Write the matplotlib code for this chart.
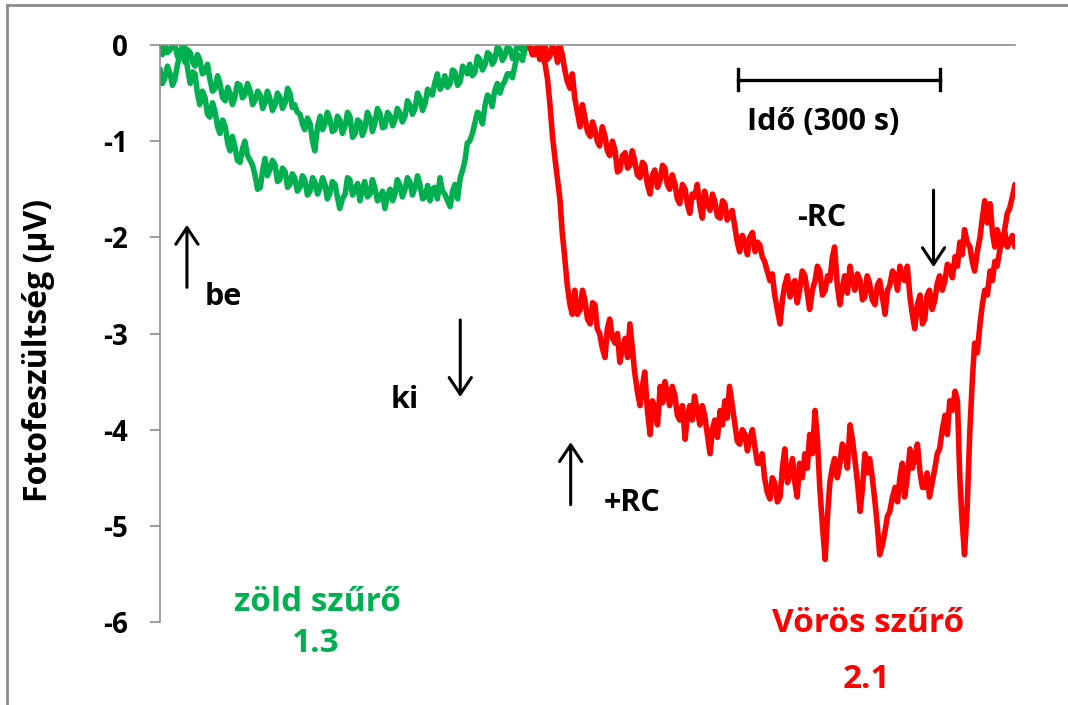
import matplotlib
matplotlib.use("Agg")
import matplotlib.pyplot as plt
from matplotlib.lines import Line2D

plt.rcParams['font.family'] = ['Open Sans', 'DejaVu Sans']

# time axis of the green-filter recording (s)
t_green = [0, 3.5, 7, 11, 15, 18.5, 22, 26, 30, 33.5, 37, 41, 45, 48.5, 52, 55.5, 59, 63, 67, 70.5,
           74, 78, 82, 85.5, 89, 93, 97, 100.5, 104, 107.5, 111, 115, 119, 122.5, 126, 130, 134,
           137.5, 141, 145, 149, 152.5, 156, 159.5, 163, 167, 171, 174.5, 178, 182, 186, 189.5,
           193, 196.5, 200, 204, 208, 211.5, 215, 219, 223, 226.5, 230, 234, 238, 241.5, 245,
           248.5, 252, 256, 260, 263.5, 267, 271, 275, 278.5, 282, 286, 290, 293.5, 297, 300.5,
           304, 308, 312, 315.5, 319, 323, 327, 330.5, 334, 338, 342, 345.5, 349, 352.5, 356,
           360, 364, 367.5, 371, 375, 379, 382.5, 386, 390, 394, 397.5, 401, 404.5, 408, 412,
           416, 419.5, 423, 427, 431, 434.5, 438, 442, 446, 449.5, 453, 456.5, 460, 464, 468,
           471.5, 475, 479, 483, 486.5, 490, 493.5, 497, 501, 505, 508.5, 512, 516, 520, 523.5,
           527, 531, 535, 538.5, 542, 545.5, 549]

green_shallow = [-0.25, -0.40, -0.35, -0.22, -0.30, -0.42, -0.36, -0.20, -0.10, -0.02,
                 -0.18, -0.05, -0.08, -0.18, -0.22, -0.10, -0.15, -0.30, -0.28, -0.20,
                 -0.35, -0.48, -0.45, -0.32, -0.40, -0.55, -0.58, -0.44, -0.50, -0.62,
                 -0.55, -0.40, -0.42, -0.55, -0.52, -0.40, -0.48, -0.62, -0.58, -0.48,
                 -0.52, -0.66, -0.60, -0.48, -0.55, -0.68, -0.62, -0.50, -0.54, -0.66,
                 -0.60, -0.45, -0.50, -0.65, -0.62, -0.70, -0.72, -0.82, -0.88, -0.76,
                 -0.82, -1.00, -1.10, -0.85, -0.74, -0.88, -0.82, -0.70, -0.76, -0.90,
                 -0.88, -0.74, -0.78, -0.92, -0.84, -0.70, -0.74, -0.96, -0.92, -0.78,
                 -0.80, -0.94, -0.88, -0.70, -0.76, -0.90, -0.82, -0.66, -0.72, -0.86,
                 -0.85, -0.70, -0.74, -0.84, -0.78, -0.66, -0.70, -0.80, -0.74, -0.58,
                 -0.62, -0.72, -0.66, -0.50, -0.55, -0.68, -0.60, -0.46, -0.50, -0.52,
                 -0.40, -0.30, -0.46, -0.42, -0.32, -0.44, -0.40, -0.26, -0.28, -0.42,
                 -0.38, -0.22, -0.25, -0.30, -0.20, -0.32, -0.28, -0.12, -0.15, -0.26,
                 -0.20, -0.08, -0.10, -0.20, -0.16, -0.02, -0.05, -0.16, -0.12, -0.02,
                 -0.04, -0.14, -0.10, 0.0, -0.02, -0.06, 0.0, -0.03, 0.0]

green_deep = [-0.02, -0.10, 0.0, -0.08, -0.05, 0.0, 0.0, -0.12, -0.08, 0.0,
              -0.02, -0.25, -0.40, -0.28, -0.30, -0.50, -0.62, -0.48, -0.55, -0.72,
              -0.75, -0.60, -0.70, -0.85, -0.92, -0.78, -0.85, -1.02, -1.10, -0.95,
              -1.05, -1.20, -1.22, -1.08, -1.00, -1.15, -1.20, -1.25, -1.35, -1.50,
              -1.48, -1.30, -1.18, -1.36, -1.30, -1.20, -1.25, -1.42, -1.40, -1.28,
              -1.32, -1.48, -1.45, -1.34, -1.38, -1.52, -1.48, -1.36, -1.40, -1.56,
              -1.52, -1.38, -1.42, -1.55, -1.48, -1.38, -1.45, -1.60, -1.55, -1.42,
              -1.45, -1.58, -1.70, -1.60, -1.55, -1.38, -1.40, -1.56, -1.50, -1.44,
              -1.62, -1.50, -1.42, -1.58, -1.55, -1.40, -1.48, -1.62, -1.60, -1.52,
              -1.70, -1.56, -1.50, -1.62, -1.55, -1.40, -1.45, -1.58, -1.50, -1.38,
              -1.42, -1.56, -1.48, -1.36, -1.45, -1.60, -1.58, -1.46, -1.62, -1.50,
              -1.48, -1.60, -1.38, -1.52, -1.55, -1.62, -1.68, -1.52, -1.45, -1.60,
              -1.38, -1.30, -1.20, -1.02, -1.00, -0.92, -0.80, -0.70, -0.72, -0.82,
              -0.62, -0.52, -0.55, -0.64, -0.48, -0.40, -0.50, -0.42, -0.38, -0.30,
              -0.30, -0.34, -0.22, -0.10, -0.12, -0.16, -0.05, 0.0, 0.0]

# time axis of the red-filter recording (s)
t_red = [549, 553, 557, 560.5, 564, 568, 572, 575.5, 579, 583, 587, 590.5, 594, 597.5, 601, 605,
         609, 612.5, 616, 620, 624, 627.5, 631, 635, 639, 642.5, 646, 649.5, 653, 657, 661,
         664.5, 668, 672, 676, 679.5, 683, 687, 691, 694.5, 698, 701.5, 705, 709, 713, 716.5,
         720, 724, 728, 731.5, 735, 739, 743, 746.5, 750, 753.5, 757, 761, 765, 768.5, 772,
         776, 780, 783.5, 787, 790.5, 794, 798, 802, 805.5, 809, 813, 817, 820.5, 824, 828,
         832, 835.5, 839, 842.5, 846, 850, 854, 857.5, 861, 865, 869, 872.5, 876, 880, 884,
         887.5, 891, 894.5, 898, 902, 906, 909.5, 913, 917, 921, 924.5, 928, 932, 936, 939.5,
         943, 946.5, 950, 954, 958, 961.5, 965, 969, 973, 976.5, 980, 984, 988, 991.5, 995,
         998.5, 1002, 1006, 1010, 1013.5, 1017, 1021, 1025, 1028.5, 1032, 1036, 1040, 1043.5,
         1047, 1050.5, 1054, 1058, 1062, 1065.5, 1069, 1073, 1077, 1080.5, 1084, 1088, 1092,
         1095.5, 1099, 1102.5, 1106, 1110, 1114, 1117.5, 1121, 1125, 1129, 1132.5, 1136,
         1139.5, 1143, 1147, 1151, 1154.5, 1158, 1162, 1166, 1169.5, 1173, 1177, 1181, 1184.5,
         1188, 1191.5, 1195, 1199, 1203, 1206.5, 1210, 1214, 1218, 1221.5, 1225, 1229, 1233,
         1236.5, 1240, 1243.5, 1247, 1251, 1255, 1258.5, 1262, 1266, 1270]

red_minus_rc = [0.0, -0.10, -0.05, 0.0, -0.15, -0.05, 0.0, -0.15, -0.12, 0.0,
                -0.05, -0.18, 0.0, -0.10, -0.25, -0.38, -0.45, -0.30, -0.55, -0.70,
                -0.85, -0.62, -0.75, -0.90, -0.95, -0.80, -0.88, -1.00, -1.05, -0.85,
                -0.95, -1.10, -1.15, -1.00, -1.10, -1.32, -1.30, -1.15, -1.12, -1.28,
                -1.25, -1.10, -1.20, -1.35, -1.38, -1.22, -1.25, -1.45, -1.55, -1.35,
                -1.30, -1.48, -1.40, -1.25, -1.28, -1.45, -1.50, -1.35, -1.45, -1.60,
                -1.65, -1.45, -1.50, -1.66, -1.75, -1.55, -1.58, -1.45, -1.68, -1.80,
                -1.52, -1.64, -1.72, -1.55, -1.62, -1.78, -1.80, -1.62, -1.65, -1.82,
                -1.78, -1.72, -1.90, -2.05, -2.15, -1.98, -2.05, -2.18, -2.00, -1.95,
                -2.15, -2.05, -2.08, -2.20, -2.25, -2.35, -2.45, -2.38, -2.60, -2.75,
                -2.90, -2.65, -2.50, -2.40, -2.62, -2.50, -2.45, -2.68, -2.55, -2.35,
                -2.40, -2.58, -2.75, -2.55, -2.45, -2.30, -2.35, -2.60, -2.55, -2.40,
                -2.45, -2.22, -2.10, -2.50, -2.70, -2.52, -2.40, -2.58, -2.30, -2.45,
                -2.55, -2.38, -2.45, -2.65, -2.62, -2.40, -2.48, -2.65, -2.70, -2.50,
                -2.45, -2.62, -2.80, -2.55, -2.50, -2.35, -2.40, -2.55, -2.30, -2.42,
                -2.45, -2.30, -2.62, -2.80, -2.95, -2.70, -2.60, -2.90, -2.85, -2.60,
                -2.55, -2.75, -2.65, -2.48, -2.40, -2.55, -2.45, -2.28, -2.30, -2.42,
                -2.20, -2.30, -2.05, -2.18, -1.92, -2.05, -2.10, -2.25, -2.35, -2.15,
                -2.00, -1.80, -1.62, -1.85, -1.65, -1.95, -2.10, -1.92, -2.00, -2.08,
                -1.90, -1.75, -1.70, -1.58, -1.45]

red_plus_rc = [0.0, -0.08, -0.10, 0.0, 0.0, -0.12, -0.20, -0.35, -0.60, -0.95,
               -1.20, -1.40, -1.60, -1.95, -2.20, -2.50, -2.70, -2.80, -2.55, -2.80,
               -2.75, -2.55, -2.65, -2.85, -2.90, -2.68, -2.70, -2.95, -3.00, -3.15,
               -3.25, -2.95, -2.85, -3.05, -3.10, -3.00, -3.30, -3.15, -3.05, -3.25,
               -2.90, -3.15, -3.40, -3.60, -3.75, -3.55, -3.40, -3.80, -4.05, -3.70,
               -3.80, -3.95, -3.55, -3.72, -3.50, -3.62, -3.75, -3.55, -3.65, -3.85,
               -3.90, -3.75, -4.10, -3.85, -3.75, -3.90, -3.65, -3.80, -3.95, -3.75,
               -3.85, -4.05, -4.25, -4.00, -3.90, -4.08, -3.80, -3.95, -3.70, -3.88,
               -3.55, -3.75, -3.95, -4.12, -4.15, -4.00, -4.05, -4.22, -4.10, -4.00,
               -4.20, -4.35, -4.35, -4.25, -4.50, -4.65, -4.72, -4.50, -4.55, -4.75,
               -4.70, -4.40, -4.20, -4.55, -4.45, -4.30, -4.55, -4.70, -4.35, -4.50,
               -4.25, -4.40, -4.05, -4.25, -3.80, -4.10, -4.60, -5.00, -5.35, -4.90,
               -4.55, -4.40, -4.30, -4.50, -4.35, -4.15, -4.20, -4.40, -3.95, -4.10,
               -4.30, -4.55, -4.85, -4.60, -4.25, -4.45, -4.30, -4.50, -4.75, -5.00,
               -5.30, -5.20, -5.05, -4.90, -4.85, -4.70, -4.60, -4.75, -4.50, -4.35,
               -4.70, -4.50, -4.20, -4.40, -4.30, -4.15, -4.45, -4.60, -4.60, -4.45,
               -4.70, -4.55, -4.40, -4.25, -4.20, -4.00, -3.85, -4.05, -3.70, -3.80,
               -3.60, -3.70, -4.50, -4.95, -5.30, -4.80, -4.00, -3.50, -3.10, -3.20,
               -2.90, -2.70, -2.55, -2.60, -2.35, -2.45, -2.25, -2.30, -2.15, -2.00,
               -1.95, -2.10, -2.05, -1.98, -2.10]

y_ticks = [0, -1, -2, -3, -4, -5, -6]
GREEN = '#00B050'
RED = '#FF0000'
GRAY = '#8C8C8C'

fig = plt.figure(figsize=(10.68, 7.05), dpi=100)
W, H = 1068, 705
ax = fig.add_axes([160 / W, 1 - 622 / H, (1015 - 160) / W, (622 - 45) / H])


def trace(t, v, color):
    n = min(len(t), len(v))
    ax.plot(t[:n], v[:n], color=color, lw=4.0, solid_joinstyle='round',
            solid_capstyle='round')


trace(t_green, green_shallow, GREEN)
trace(t_green, green_deep, GREEN)
trace(t_red, red_minus_rc, RED)
trace(t_red, red_plus_rc, RED)

ax.set_xlim(0, 1270)
ax.set_ylim(-6, 0)
ax.set_yticks(y_ticks)
ax.set_yticklabels([str(v) for v in y_ticks], fontsize=20, fontweight='bold')
ax.set_xticks([])
for s in ['right', 'bottom']:
    ax.spines[s].set_visible(False)
for s in ['left', 'top']:
    ax.spines[s].set_color(GRAY)
    ax.spines[s].set_linewidth(1.2)
ax.tick_params(axis='y', direction='out', length=7.2, width=1.2, color=GRAY, pad=16)
ax.set_ylabel('Fotofeszültség (μV)', fontsize=23, fontweight='bold')
ax.yaxis.set_label_coords(-0.123, 0.47)

arrow_kw = dict(arrowstyle='->,head_length=0.6,head_width=0.4', lw=2.2, color='black',
                shrinkA=0, shrinkB=0, mutation_scale=20)
ax.annotate('', xy=(40, -1.87), xytext=(40, -2.52), arrowprops=arrow_kw)
ax.annotate('', xy=(446, -3.66), xytext=(446, -2.86), arrowprops=arrow_kw)
ax.annotate('', xy=(610, -4.13), xytext=(610, -4.78), arrowprops=arrow_kw)
ax.annotate('', xy=(1149, -2.31), xytext=(1149, -1.51), arrowprops=arrow_kw)

# scale bar 300 s
ax.plot([858, 1158], [-0.36, -0.36], color='black', lw=2.4)
ax.plot([858, 858], [-0.25, -0.47], color='black', lw=2.4)
ax.plot([1158, 1158], [-0.25, -0.47], color='black', lw=2.4)

tk = dict(fontsize=22, fontweight='bold', ha='center', va='center', clip_on=False)
ax.text(985, -0.80, 'Idő (300 s)', **tk)
ax.text(94, -2.62, 'be', **tk)
ax.text(364, -3.69, 'ki', **tk)
ax.text(702, -4.76, '+RC', **tk)
ax.text(983, -1.80, '-RC', **tk)
tg = dict(fontsize=24, fontweight='bold', ha='center', va='center', clip_on=False)
ax.text(234, -5.80, 'zöld szűrő', color=GREEN, **tg)
ax.text(232, -6.22, '1.3', color=GREEN, **tg)
ax.text(1051, -6.02, 'Vörös szűrő', color=RED, **tg)
ax.text(1050, -6.60, '2.1', color=RED, **tg)

# outer frame (visible left and top edges)
fig.add_artist(Line2D([7 / W, 7 / W], [0, 1 - 5 / H], color=GRAY, lw=2))
fig.add_artist(Line2D([7 / W, 1], [1 - 5 / H, 1 - 5 / H], color=GRAY, lw=2))

fig.savefig('out.png', dpi=100)
